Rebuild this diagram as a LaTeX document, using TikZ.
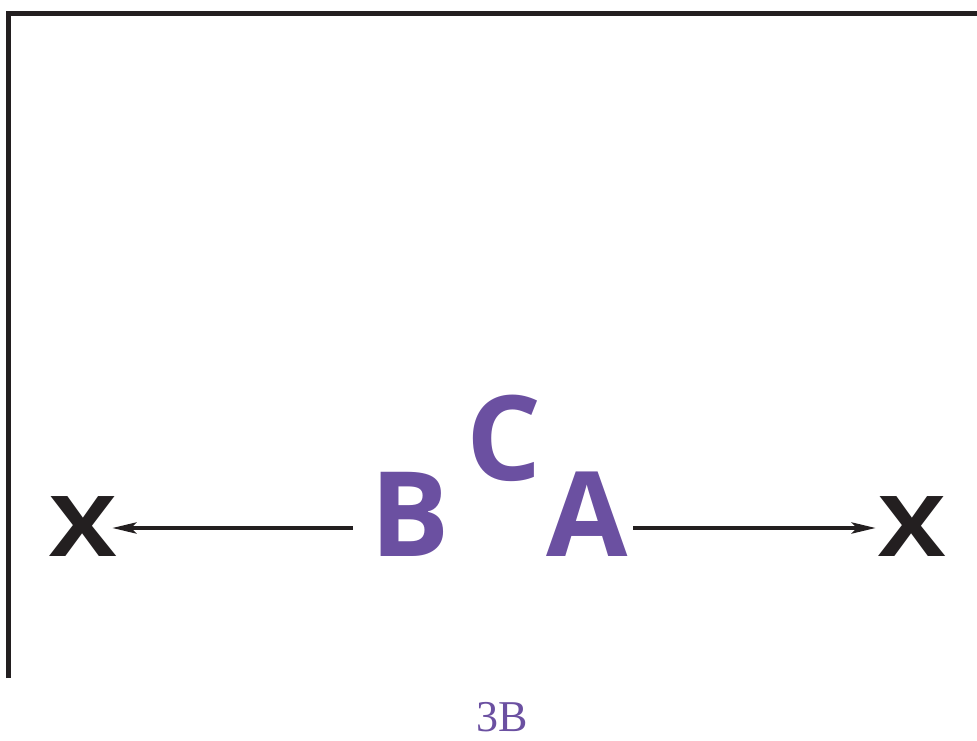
\documentclass[tikz,border=0pt]{standalone}
\usepackage{fontspec}
\setmainfont{Open Sans}
\newfontfamily\handfont{Liberation Serif}
\usetikzlibrary{arrows.meta}
\definecolor{inkblack}{HTML}{231F20}
\definecolor{violet1}{HTML}{6B50A1}
\tikzset{
  bigletter/.style={text=violet1, font=\fontsize{118}{118}\selectfont\bfseries, inner sep=0pt, align=center, text height=84pt, text depth=28pt},
  xmark/.style={text=inkblack, font=\fontsize{84}{84}\selectfont\bfseries, inner sep=0pt, align=center, text height=60pt, text depth=4pt},
  arr/.style={draw=inkblack, line width=4pt, -{Stealth[length=24pt, width=11pt, inset=5pt]}},
  frame/.style={draw=inkblack, line width=5pt, line join=miter}
}
\begin{document}
\begin{tikzpicture}[x=1pt,y=1pt]
\useasboundingbox (0,0) rectangle (977,740);
\draw[frame] (8,62) -- (8,726) -- (979,726);
\node[bigletter, text width=115pt] (B) at (410.5,212) {B};
\node[bigletter, text width=92pt] (A) at (587,212) {A};
\node[bigletter, text width=70pt, text height=87pt, text depth=0pt] (C) at (501,303.5) {C};
\node[xmark, text width=72pt] (xl) at (83.5,212) {\scalebox{1.2}[1]{X}};
\node[xmark, text width=72pt] (xr) at (912,212) {\scalebox{1.2}[1]{X}};
\draw[arr, shorten >=-7.5pt] (B) -- (xl);
\draw[arr] (A) -- (xr);
\node[text=violet1, font=\handfont\fontsize{44}{44}\selectfont, inner sep=0pt, anchor=base] (lbl) at (502,9) {3B};
\end{tikzpicture}
\end{document}
